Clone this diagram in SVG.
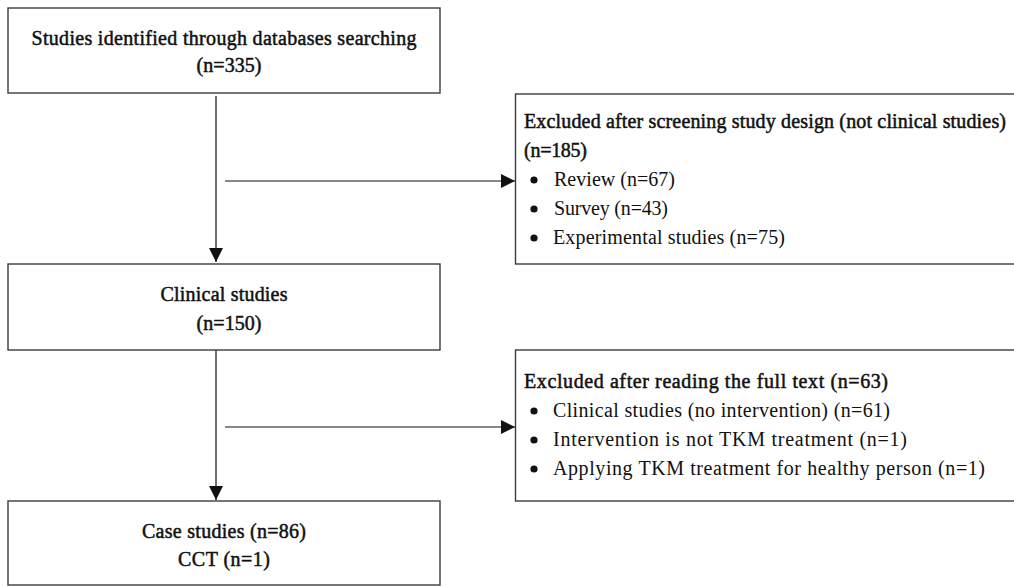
<svg xmlns="http://www.w3.org/2000/svg" width="1014" height="586" viewBox="0 0 1014 586">
<style>
.box{fill:#fff;stroke:#3c3c3c;stroke-width:1.4}
.t{font-family:"Liberation Serif","Times New Roman",serif;font-size:20px;fill:#111}
.h{stroke:#111;stroke-width:0.5}
.c{text-anchor:middle}
.conn{stroke:#111;stroke-width:1.2;fill:none}
.dot{fill:#111}
</style>
<defs>
<marker id="ah" viewBox="0 0 14 14" refX="14" refY="7" markerWidth="14" markerHeight="14" markerUnits="userSpaceOnUse" orient="auto">
<path d="M0,0 L14,7 L0,14 z" fill="#111"/>
</marker>
</defs>
<rect width="1014" height="586" fill="#fff"/>
<g id="connectors">
<line class="conn" x1="216" y1="96" x2="216" y2="262" marker-end="url(#ah)"/>
<line class="conn" x1="216" y1="350" x2="216" y2="500" marker-end="url(#ah)"/>
<line class="conn" x1="225" y1="181" x2="515" y2="181" marker-end="url(#ah)"/>
<line class="conn" x1="225" y1="427" x2="515" y2="427" marker-end="url(#ah)"/>
</g>
<g id="identified">
<rect class="box" x="8" y="8" width="432" height="85"/>
<text class="t h c" x="224" y="45" textLength="385" lengthAdjust="spacing">Studies identified through databases searching</text>
<text class="t h c" x="229" y="72" textLength="65" lengthAdjust="spacing">(n=335)</text>
</g>
<g id="clinical">
<rect class="box" x="8" y="264" width="432" height="86"/>
<text class="t h c" x="224" y="301" textLength="127" lengthAdjust="spacing">Clinical studies</text>
<text class="t h c" x="229" y="330" textLength="65" lengthAdjust="spacing">(n=150)</text>
</g>
<g id="included">
<rect class="box" x="8" y="501" width="432" height="84"/>
<text class="t h c" x="224" y="538" textLength="164" lengthAdjust="spacing">Case studies (n=86)</text>
<text class="t h c" x="224" y="566" textLength="92" lengthAdjust="spacing">CCT (n=1)</text>
</g>
<g id="excluded1">
<rect class="box" x="515.5" y="94" width="520" height="170"/>
<text class="t h" x="524" y="128" textLength="482" lengthAdjust="spacing">Excluded after screening study design (not clinical studies)</text>
<text class="t h" x="524" y="157" textLength="63" lengthAdjust="spacing">(n=185)</text>
<circle class="dot" cx="534" cy="180" r="3.6"/>
<text class="t" x="554" y="186" textLength="121" lengthAdjust="spacing">Review (n=67)</text>
<circle class="dot" cx="534" cy="209" r="3.6"/>
<text class="t" x="554" y="215" textLength="114" lengthAdjust="spacing">Survey (n=43)</text>
<circle class="dot" cx="534" cy="238" r="3.6"/>
<text class="t" x="553" y="244" textLength="232" lengthAdjust="spacing">Experimental studies (n=75)</text>
</g>
<g id="excluded2">
<rect class="box" x="515.5" y="350" width="520" height="151"/>
<text class="t h" x="524" y="388" textLength="364" lengthAdjust="spacing">Excluded after reading the full text (n=63)</text>
<circle class="dot" cx="534" cy="411" r="3.6"/>
<text class="t" x="553" y="417" textLength="337" lengthAdjust="spacing">Clinical studies (no intervention) (n=61)</text>
<circle class="dot" cx="534" cy="440" r="3.6"/>
<text class="t" x="553" y="446" textLength="354" lengthAdjust="spacing">Intervention is not TKM treatment (n=1)</text>
<circle class="dot" cx="534" cy="469" r="3.6"/>
<text class="t" x="553" y="475" textLength="432" lengthAdjust="spacing">Applying TKM treatment for healthy person (n=1)</text>
</g>
</svg>
